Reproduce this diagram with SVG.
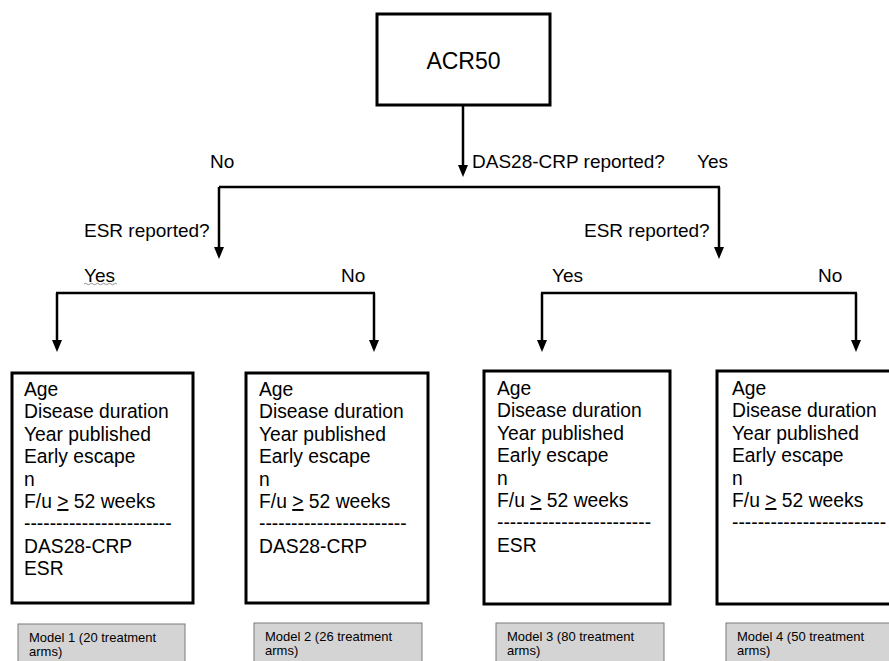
<svg xmlns="http://www.w3.org/2000/svg" width="889" height="661" viewBox="0 0 889 661">
<defs>
<style>
.t{font-family:"Liberation Sans",Arial,sans-serif;fill:#000}
.lbl{font-size:19px}
.bx{fill:#fff;stroke:#000;stroke-width:3}
.body{font-size:19.3px}
.mdl{fill:#d4d4d4;stroke:#7a7a7a;stroke-width:1}
.mt{font-size:13px}
.c{fill:none;stroke:#000;stroke-width:2.5}
.ca{fill:none;stroke:#000;stroke-width:2.5;marker-end:url(#ah)}
</style>
<marker id="ah" viewBox="0 0 12 10" markerWidth="12" markerHeight="10" refX="2" refY="5" orient="auto" markerUnits="userSpaceOnUse">
<path d="M0,0 L12,5 L0,10 z" fill="#000"/>
</marker>
</defs>
<rect width="889" height="661" fill="#fff"/>

<g id="connectors">
<path class="ca" d="M463,105 V167"/>
<path class="c" d="M219,187 H720"/>
<path class="ca" d="M219,187 V249"/>
<path class="ca" d="M719,187 V249"/>
<path class="c" d="M56,293 H375"/>
<path class="ca" d="M57,293 V342"/>
<path class="ca" d="M374,293 V342"/>
<path class="c" d="M541,293 H857"/>
<path class="ca" d="M542,293 V342"/>
<path class="ca" d="M856,293 V342"/>
</g>

<g id="labels">
<text class="t lbl" x="210" y="168">No</text>
<text class="t lbl" x="472" y="168">DAS28-CRP reported?</text>
<text class="t lbl" x="697" y="168">Yes</text>
<text class="t lbl" x="84" y="237">ESR reported?</text>
<text class="t lbl" x="584" y="237">ESR reported?</text>
<text class="t lbl" x="84" y="282">Yes</text>
<path d="M84,284 q1.5,-1.5 3,0 t3,0 t3,0 t3,0 t3,0 t3,0 t3,0 t3,0 t3,0 t3,0 t3,0" fill="none" stroke="#777" stroke-width="0.8"/>
<text class="t lbl" x="341" y="282">No</text>
<text class="t lbl" x="552" y="282">Yes</text>
<text class="t lbl" x="818" y="282">No</text>
</g>

<g id="acr50">
<rect class="bx" x="377" y="14" width="173" height="91"/>
<text class="t" x="463.5" y="69" font-size="23" text-anchor="middle">ACR50</text>
</g>

<g id="box1">
<rect class="bx" x="12" y="373" width="181" height="230"/>
<text class="t body" x="24" y="396">Age</text>
<text class="t body" x="24" y="418.4">Disease duration</text>
<text class="t body" x="24" y="440.8">Year published</text>
<text class="t body" x="24" y="463.2">Early escape</text>
<text class="t body" x="24" y="485.6">n</text>
<text class="t body" x="24" y="508">F/u <tspan text-decoration="underline">&gt;</tspan> 52 weeks</text>
<text class="t body" x="24" y="530.4">-----------------------</text>
<text class="t body" x="24" y="552.8">DAS28-CRP</text>
<text class="t body" x="24" y="575.2">ESR</text>
</g>

<g id="box2">
<rect class="bx" x="246" y="373" width="182" height="230"/>
<text class="t body" x="259" y="396">Age</text>
<text class="t body" x="259" y="418.4">Disease duration</text>
<text class="t body" x="259" y="440.8">Year published</text>
<text class="t body" x="259" y="463.2">Early escape</text>
<text class="t body" x="259" y="485.6">n</text>
<text class="t body" x="259" y="508">F/u <tspan text-decoration="underline">&gt;</tspan> 52 weeks</text>
<text class="t body" x="259" y="530.4">-----------------------</text>
<text class="t body" x="259" y="552.8">DAS28-CRP</text>
</g>

<g id="box3">
<rect class="bx" x="484" y="371" width="186" height="233"/>
<text class="t body" x="497" y="395">Age</text>
<text class="t body" x="497" y="417.4">Disease duration</text>
<text class="t body" x="497" y="439.8">Year published</text>
<text class="t body" x="497" y="462.2">Early escape</text>
<text class="t body" x="497" y="484.6">n</text>
<text class="t body" x="497" y="507">F/u <tspan text-decoration="underline">&gt;</tspan> 52 weeks</text>
<text class="t body" x="497" y="529.4">------------------------</text>
<text class="t body" x="497" y="551.8">ESR</text>
</g>

<g id="box4">
<rect class="bx" x="717" y="371" width="186" height="233"/>
<text class="t body" x="732" y="395">Age</text>
<text class="t body" x="732" y="417.4">Disease duration</text>
<text class="t body" x="732" y="439.8">Year published</text>
<text class="t body" x="732" y="462.2">Early escape</text>
<text class="t body" x="732" y="484.6">n</text>
<text class="t body" x="732" y="507">F/u <tspan text-decoration="underline">&gt;</tspan> 52 weeks</text>
<text class="t body" x="732" y="529.4">------------------------</text>
</g>

<g id="model1">
<rect class="mdl" x="18" y="624" width="167" height="50"/>
<text class="t mt" x="29" y="642">Model 1 (20 treatment</text>
<text class="t mt" x="29" y="656">arms)</text>
</g>
<g id="model2">
<rect class="mdl" x="254" y="623" width="168" height="50"/>
<text class="t mt" x="265" y="641">Model 2 (26 treatment</text>
<text class="t mt" x="265" y="655">arms)</text>
</g>
<g id="model3">
<rect class="mdl" x="496" y="623" width="168" height="50"/>
<text class="t mt" x="507" y="641">Model 3 (80 treatment</text>
<text class="t mt" x="507" y="655">arms)</text>
</g>
<g id="model4">
<rect class="mdl" x="726" y="623" width="175" height="50"/>
<text class="t mt" x="737" y="641">Model 4 (50 treatment</text>
<text class="t mt" x="737" y="655">arms)</text>
</g>
</svg>
